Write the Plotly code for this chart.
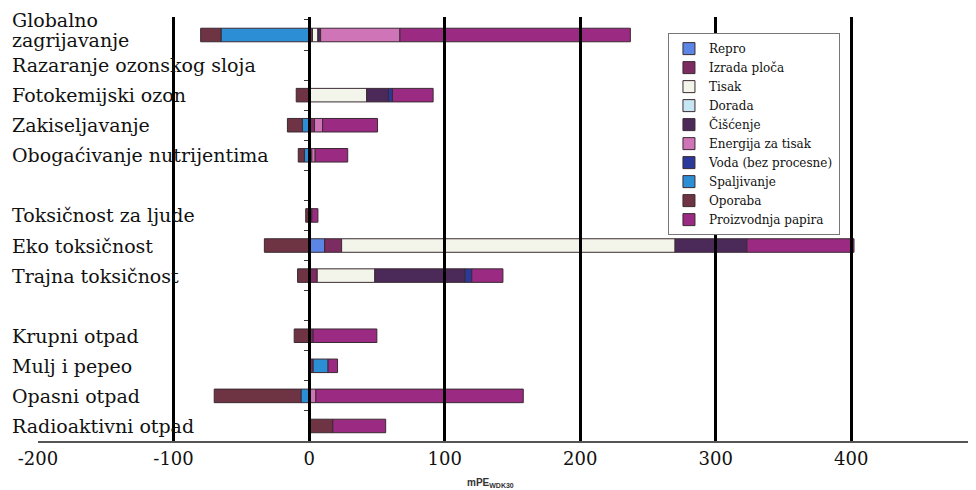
import plotly.graph_objects as go

# Category slots, top to bottom (two blank spacer slots)
categories = [
    "Globalno<br>zagrijavanje",
    "Razaranje ozonskog sloja",
    "Fotokemijski ozon",
    "Zakiseljavanje",
    "Obogaćivanje nutrijentima",
    " ",
    "Toksičnost za ljude",
    "Eko toksičnost",
    "Trajna toksičnost",
    "  ",
    "Krupni otpad",
    "Mulj i pepeo",
    "Opasni otpad",
    "Radioaktivni otpad",
]

N = None
#            Glob   Razar Foto   Zak   Obog  sp   Toks  Eko    Trajna sp  Krupni Mulj Opasni Radio
repro =       [N,    N,    N,     N,    N,    N,   N,    11.5,  N,     N,  N,     N,   N,     N]
izrada =      [2.5,  N,    1,     4,    N,    N,   N,    12.5,  6,     N,  3,     3,   N,     N]
tisak =       [4,    N,    41.5,  N,    N,    N,   N,    246,   42.5,  N,  N,     N,   1,     N]
dorada =      [N,    N,    N,     N,    2,    N,   N,    N,     N,     N,  N,     N,   N,     N]
ciscenje =    [2,    N,    16,    N,    N,    N,   2,    53,    66.5,  N,  N,     N,   N,     N]
energija =    [58.5, N,    N,     6,    2.5,  N,   N,    N,     N,     N,  N,     N,   4,     N]
voda =        [N,    N,    3,     N,    N,    N,   N,    N,     5,     N,  N,     N,   N,     N]
spaljivanje = [-65,  N,    N,     -5,   -3.5, N,   N,    N,     N,     N,  N,     11,  -6,    N]
oporaba =     [-15,  N,    -9.5,  -11,  -4.5, N,   -2.5, -33,   -8.5,  N,  -11,   N,   -64,   17.5]
proizvodnja = [170,  N,    30,    40.5, 24,   N,   4.5,  79,    23,    N,  47,    7,   153,   39]

series_names = ["Repro", "Izrada ploča", "Tisak", "Dorada", "Čišćenje",
                "Energija za tisak", "Voda (bez procesne)", "Spaljivanje",
                "Oporaba", "Proizvodnja papira"]
series_values = [repro, izrada, tisak, dorada, ciscenje, energija, voda,
                 spaljivanje, oporaba, proizvodnja]
series_colors = ["#5b86e5", "#7d2c62", "#f3f5ea", "#c5e6f2", "#4b2a5a",
                 "#cf74b6", "#2b3a9a", "#2c8fd6", "#6e3444", "#9b2a82"]

x_tickvals = [-200, -100, 0, 100, 200, 300, 400]
x_ticktext = ["-200", "-100", "0", "100", "200", "300", "400"]
grid_vals = [-100, 0, 100, 200, 300, 400]
x_range = [-200, 492]

SERIF = "DejaVu Serif"

fig = go.Figure()
for name, vals, col in zip(series_names, series_values, series_colors):
    fig.add_trace(go.Bar(
        y=categories, x=vals, name=name, orientation="h",
        marker=dict(color=col, line=dict(color="#3a2a32", width=1)),
    ))
# empty trace so the overlaid labelling axis is drawn
fig.add_trace(go.Bar(y=[], x=[], orientation="h", xaxis="x2",
                     showlegend=False, hoverinfo="skip"))

annotations = []
for cat in categories:
    if cat.strip() == "":
        continue
    lines = cat.split("<br>")
    n = len(lines)
    for i, line in enumerate(lines):
        # two-line labels: lines ~20 px apart, block shifted slightly upward
        shift = 0 if n == 1 else (15 - 20 * i)
        annotations.append(dict(
            xref="paper", yref="y", x=-0.0299, y=cat, text=line,
            xanchor="left", yanchor="middle", align="left", showarrow=False,
            yshift=shift,
            font=dict(family=SERIF, size=19, color="#111"),
        ))
annotations.append(dict(
    xref="paper", yref="paper", x=0.482, y=-0.099,
    text="<b>mPE<sub>WDK30</sub></b>", showarrow=False,
    xanchor="center", yanchor="middle",
    font=dict(family="Liberation Sans", size=10, color="#333"),
))

fig.update_layout(
    width=968, height=482,
    margin=dict(l=30, r=0, t=9, b=49),
    paper_bgcolor="white", plot_bgcolor="white",
    barmode="relative", bargap=0.55,
    showlegend=True,
    legend=dict(
        x=0.6716, y=0.962, xanchor="left", yanchor="top",
        bgcolor="white", bordercolor="#777", borderwidth=1,
        font=dict(family=SERIF, size=12, color="#111"),
        traceorder="normal", tracegroupgap=0,
    ),
    xaxis=dict(
        range=x_range, tickvals=grid_vals, showticklabels=False,
        ticks="inside", ticklen=424, tickwidth=2.5, tickcolor="black",
        showgrid=False, zeroline=False, showline=False,
        layer="above traces", automargin=False,
    ),
    xaxis2=dict(
        overlaying="x", anchor="y", side="bottom", range=x_range,
        tickvals=x_tickvals, ticktext=x_ticktext, ticks="",
        showgrid=False, zeroline=False, showline=True,
        linecolor="#555", linewidth=2, automargin=False,
        tickfont=dict(family=SERIF, size=18, color="#111"),
    ),
    yaxis=dict(
        type="category", categoryorder="array", categoryarray=categories,
        autorange="reversed", showticklabels=False, showgrid=False,
        zeroline=False, anchor="free", position=200 / 692,
        showline=True, linecolor="black", linewidth=2,
        ticks="outside", ticklen=4, tickwidth=1, tickcolor="#333",
        tickson="boundaries", automargin=False,
    ),
    annotations=annotations,
)

fig.write_html("out.html")
